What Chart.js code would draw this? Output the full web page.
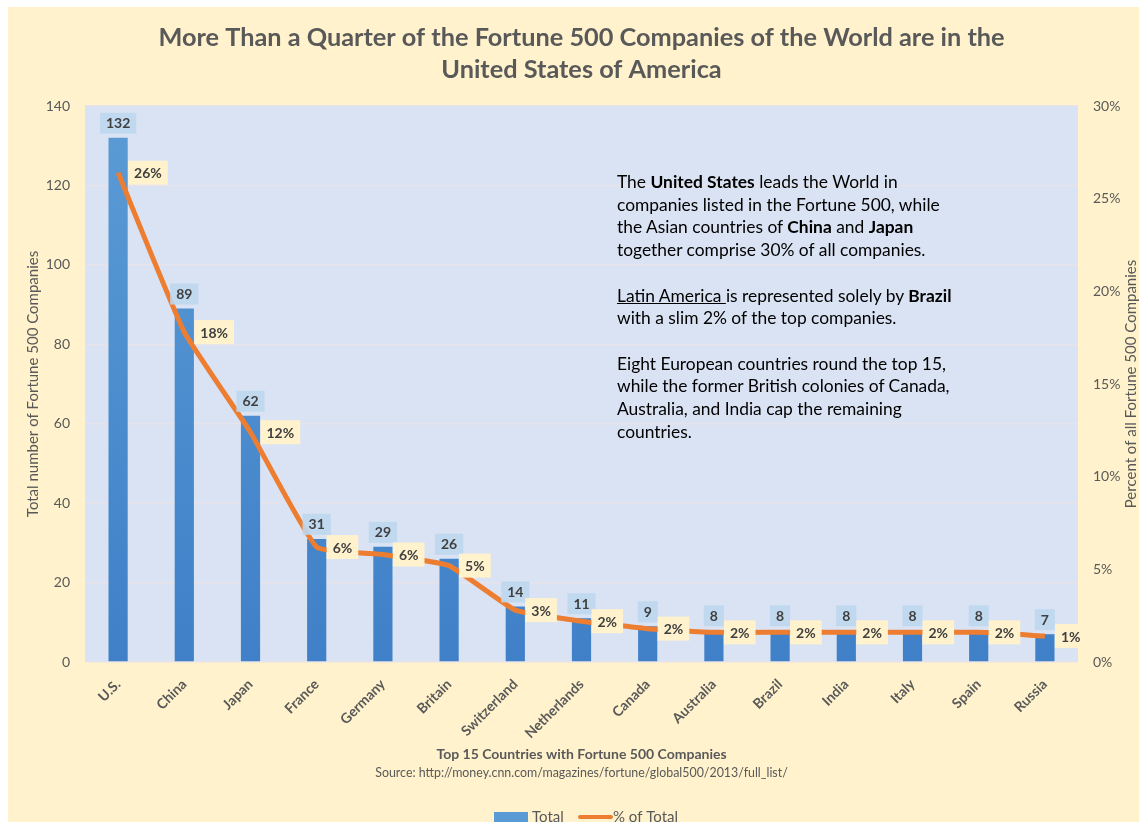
<!DOCTYPE html>
<html lang="en">
<head>
  <meta charset="UTF-8" />
  <title>Fortune 500 Companies by Country</title>
  <script src="https://cdn.jsdelivr.net/npm/chart.js"></script>
  <style>
    body { margin: 0; background: #ffffff; }
    #wrap { position: absolute; left: 8px; top: 7px; width: 1131px; height: 815px; background: #fff2cc; overflow: hidden; }
    #note { position: absolute; left: 609px; top: 164px; font: 17.4px Lato, sans-serif; line-height: 22.7px; color: #000; white-space: nowrap; }
    #note u { text-decoration-thickness: 1px; }
  </style>
</head>
<body>
  <div id="wrap">
    <canvas id="chart" width="1131" height="815"></canvas>
    <div id="note">
      The <b>United States</b> leads the World in<br>
      companies listed in the Fortune 500, while<br>
      the Asian countries of <b>China</b> and <b>Japan</b><br>
      together comprise 30% of all companies.<br>
      <br>
      <u>Latin America </u>is represented solely by <b>Brazil</b><br>
      with a slim 2% of the top companies.<br>
      <br>
      Eight European countries round the top 15,<br>
      while the former British colonies of Canada,<br>
      Australia, and India cap the remaining<br>
      countries.
    </div>
  </div>

  <script>
    // data
    const countries = ['U.S.', 'China', 'Japan', 'France', 'Germany', 'Britain', 'Switzerland',
      'Netherlands', 'Canada', 'Australia', 'Brazil', 'India', 'Italy', 'Spain', 'Russia'];
    const totals = [132, 89, 62, 31, 29, 26, 14, 11, 9, 8, 8, 8, 8, 8, 7];
    const percents = [26.4, 17.8, 12.4, 6.2, 5.8, 5.2, 2.8, 2.2, 1.8, 1.6, 1.6, 1.6, 1.6, 1.6, 1.4];
    const leftTicks = [0, 20, 40, 60, 80, 100, 120, 140];
    const rightTicks = [0, 5, 10, 15, 20, 25, 30];

    const titleLines = [
      'More Than a Quarter of the Fortune 500 Companies of the World are in the',
      'United States of America'
    ];
    const xTitle = 'Top 15 Countries with Fortune 500 Companies';
    const sourceText = 'Source: http://money.cnn.com/magazines/fortune/global500/2013/full_list/';

    const FONT = 'Lato, sans-serif';
    const GREY = '#595959';
    const BLUE = '#5b9bd5';
    const ORANGE = '#ed7d31';

    // light blue plot area
    const plotBg = {
      id: 'plotBg',
      beforeDraw(chart) {
        const { ctx, chartArea: a } = chart;
        ctx.save();
        ctx.fillStyle = '#dae3f3';
        ctx.fillRect(a.left, a.top, a.right - a.left, a.bottom - a.top);
        ctx.restore();
      }
    };

    // value boxes for bars and line
    const valueLabels = {
      id: 'valueLabels',
      afterDatasetsDraw(chart) {
        const ctx = chart.ctx;
        ctx.save();
        ctx.font = 'bold 14px ' + FONT;
        ctx.textAlign = 'center';
        ctx.textBaseline = 'middle';

        chart.getDatasetMeta(0).data.forEach((bar, i) => {
          const txt = String(totals[i]);
          const w = ctx.measureText(txt).width + 12;
          ctx.fillStyle = 'rgba(189,215,238,0.9)';
          ctx.fillRect(bar.x - w / 2, bar.y - 25, w, 21);
          ctx.fillStyle = '#404040';
          ctx.fillText(txt, bar.x, bar.y - 14);
        });

        chart.getDatasetMeta(1).data.forEach((pt, i) => {
          const txt = Math.round(percents[i]) + '%';
          const w = ctx.measureText(txt).width + 12;
          ctx.fillStyle = '#fff2cc';
          ctx.fillRect(pt.x + 10, pt.y - 12, w, 24);
          ctx.fillStyle = '#404040';
          ctx.fillText(txt, pt.x + 10 + w / 2, pt.y + 1);
        });
        ctx.restore();
      }
    };

    // titles, axis titles, source line and legend
    const texts = {
      id: 'texts',
      afterDraw(chart) {
        const { ctx, chartArea: a } = chart;
        const cx = (a.left + a.right) / 2;
        const cy = (a.top + a.bottom) / 2;
        ctx.save();
        ctx.fillStyle = GREY;
        ctx.textAlign = 'center';
        ctx.textBaseline = 'middle';

        ctx.font = 'bold 25.3px ' + FONT;
        ctx.fillText(titleLines[0], cx, 31);
        ctx.fillText(titleLines[1], cx, 63);

        ctx.font = 'bold 14px ' + FONT;
        ctx.fillText(xTitle, cx, 747);
        ctx.font = '12.4px ' + FONT;
        ctx.fillText(sourceText, cx, 766);

        ctx.font = '15px ' + FONT;
        ctx.save();
        ctx.translate(25, cy);
        ctx.rotate(-Math.PI / 2);
        ctx.fillText('Total number of Fortune 500 Companies', 0, 0);
        ctx.restore();
        ctx.save();
        ctx.translate(1123, cy);
        ctx.rotate(-Math.PI / 2);
        ctx.fillText('Percent of all Fortune 500 Companies', 0, 0);
        ctx.restore();

        // legend
        ctx.font = '15px ' + FONT;
        ctx.textAlign = 'left';
        ctx.fillStyle = BLUE;
        ctx.fillRect(486, 805, 34, 10);
        ctx.fillStyle = GREY;
        ctx.fillText('Total', 524, 810);
        ctx.strokeStyle = ORANGE;
        ctx.lineWidth = 4;
        ctx.lineCap = 'round';
        ctx.beginPath();
        ctx.moveTo(572, 810);
        ctx.lineTo(603, 810);
        ctx.stroke();
        ctx.fillText('% of Total', 605, 810);
        ctx.restore();
      }
    };

    const ctx = document.getElementById('chart').getContext('2d');

    new Chart(ctx, {
      type: 'bar',
      data: {
        labels: countries,
        datasets: [{
          label: 'Total',
          data: totals,
          yAxisID: 'y',
          order: 1,
          barPercentage: 0.29,
          categoryPercentage: 1,
          backgroundColor(c) {
            const a = c.chart.chartArea;
            if (!a) return BLUE;
            const g = c.chart.ctx.createLinearGradient(0, a.top, 0, a.bottom);
            g.addColorStop(0, '#5b9bd5');
            g.addColorStop(1, '#3f80c8');
            return g;
          }
        }, {
          type: 'line',
          label: '% of Total',
          data: percents,
          yAxisID: 'y1',
          order: 0,
          borderColor: ORANGE,
          borderWidth: 5,
          tension: 0.12,
          pointRadius: 0,
          fill: false
        }]
      },
      options: {
        responsive: false,
        animation: false,
        layout: { padding: { top: 99, right: 1, bottom: 0, left: 0 } },
        plugins: {
          legend: { display: false },
          title: { display: false },
          tooltip: { enabled: false }
        },
        scales: {
          x: {
            grid: { display: false },
            border: { display: false },
            ticks: {
              color: GREY,
              font: { family: FONT, size: 14, weight: 'bold' },
              minRotation: 45,
              maxRotation: 45,
              padding: 6
            },
            afterFit(s) { s.height = 160; }
          },
          y: {
            position: 'left',
            min: 0,
            max: 140,
            afterBuildTicks(s) { s.ticks = leftTicks.map(v => ({ value: v })); },
            grid: { color: '#e6e4ea', lineWidth: 1.5, drawTicks: false },
            border: { display: false },
            ticks: {
              color: GREY,
              font: { family: FONT, size: 14 },
              padding: 15
            },
            afterFit(s) { s.width = 77; }
          },
          y1: {
            position: 'right',
            min: 0,
            max: 30,
            afterBuildTicks(s) { s.ticks = rightTicks.map(v => ({ value: v })); },
            grid: { drawOnChartArea: false, drawTicks: false },
            border: { display: false },
            ticks: {
              color: GREY,
              font: { family: FONT, size: 14 },
              padding: 15,
              callback: v => v + '%'
            },
            afterFit(s) { s.width = 60; }
          }
        }
      },
      plugins: [plotBg, valueLabels, texts]
    });
  </script>
</body>
</html>
